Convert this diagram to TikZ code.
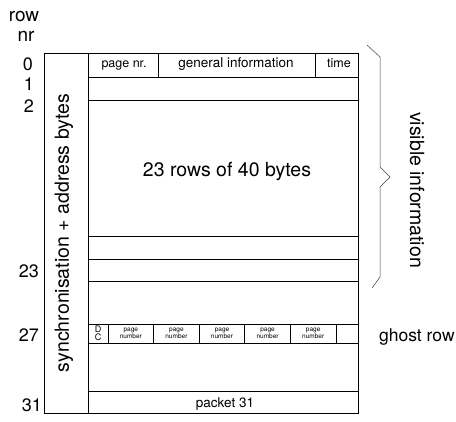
\documentclass[tikz,border=0pt]{standalone}
\usepackage{fontspec}
\setmainfont{TeX Gyre Heros}
\usetikzlibrary{positioning}

\begin{document}
\begin{tikzpicture}[x=1pt, y=-1pt, line width=0.75pt,
    bigtext/.style={font=\fontsize{19.5}{21}\selectfont, inner sep=0pt},
    rownum/.style={font=\fontsize{18}{19}\selectfont, anchor=base, inner sep=0pt},
    celltext/.style={font=\fontsize{12.5}{13}\selectfont, anchor=base, inner sep=0pt},
    tinytext/.style={font=\fontsize{6.5}{5.5}\selectfont, align=center, inner sep=0pt}]
    \useasboundingbox (0,0) rectangle (456,422);
    % Frame and sync column
    \draw (44,53) rectangle (358,413);
    \draw (88,53) -- (88,413);
    % Row lines
    \foreach \y in {77,100,236,259,281,324,343,391}
        \draw (88,\y) -- (358,\y);
    % Row 0 cells
    \draw (158,53) -- (158,77) (315,53) -- (315,77);
    \node[celltext] (pagenr) at (124,68) {page nr.};
    \node[celltext, font=\fontsize{13.5}{14}\selectfont] (geninfo) at (236,68) {general information};
    \node[celltext] (time) at (339,68) {time};
    % Ghost row cells
    \foreach \x in {108,153.6,199.2,244.8,290.4,336}
        \draw (\x,324) -- (\x,343);
    \node[tinytext, font=\fontsize{9}{8}\selectfont] (dc) at (98,333.5) {D\\C};
    \foreach \i in {0,...,4}
        \node[tinytext] (pn\i) at ({130.8+45.6*\i},333) {page\\number};
    % Packet 31
    \node[celltext, font=\fontsize{13.5}{14}\selectfont] (packet) at (225,408) {packet 31};
    % Texts
    \node[bigtext] (rows) at (227,171) {23 rows of 40 bytes};
    \node[bigtext, rotate=90] (sync) at (64,233) {synchronisation + address bytes};
    \node[bigtext, rotate=-90] (visible) at (417,190) {visible information};
    \node[bigtext, anchor=base east, font=\fontsize{17.5}{19}\selectfont] (ghost) at (455,342) {ghost row};
    % Row numbers
    \node[rownum, font=\fontsize{19}{20}\selectfont] (rowlbl) at (24,22) {row};
    \node[rownum, font=\fontsize{19}{20}\selectfont] (nrlbl) at (26,42) {nr};
    \node[rownum] (r0) at (28,71) {0};
    \node[rownum] (r1) at (29,91) {1};
    \node[rownum] (r2) at (29,113) {2};
    \node[rownum] (r23) at (29,278) {23};
    \node[rownum] (r27) at (29,342) {27};
    \node[rownum] (r31) at (32,412) {31};
    % Brace
    \draw[line width=0.5pt, black!75] (367,45) -- (380,57) -- (380,167) -- (390,177)
        -- (380,187) -- (380,277) -- (372,288);
\end{tikzpicture}
\end{document}
